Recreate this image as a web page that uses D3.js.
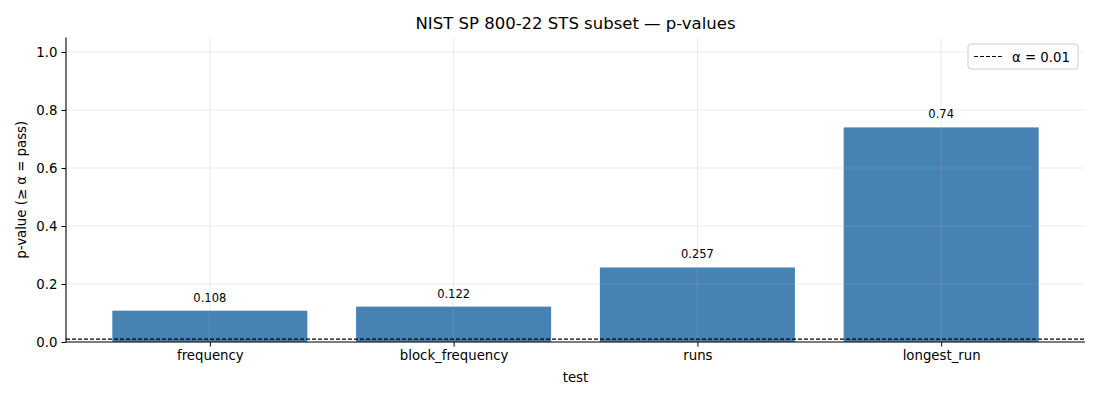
<!DOCTYPE html>
<html>
<head>
<meta charset="utf-8">
<script src="https://cdn.jsdelivr.net/npm/d3@7"></script>
<style>
  body { margin: 0; background: #fff; }
  svg { font-family: "DejaVu Sans", sans-serif; }
</style>
</head>
<body>
<svg id="chart" width="1100" height="400"></svg>
<script>
// STS subset results
var tests = ["frequency", "block_frequency", "runs", "longest_run"];
var pvalues = [0.108, 0.122, 0.257, 0.74];
var pLabels = ["0.108", "0.122", "0.257", "0.74"];
var alpha = 0.01;
var yTicks = [0.0, 0.2, 0.4, 0.6, 0.8, 1.0];

var svg = d3.select("#chart");
var m = {left: 66, right: 1085, top: 37.5, bottom: 342};

// matplotlib-like categorical axis: bars of width 0.8, 5% margins
var x = d3.scaleLinear().domain([-0.59, 3.59]).range([m.left, m.right]);
var y = d3.scaleLinear().domain([0, 1.05]).range([m.bottom, m.top]);
var barW = 0.8;

svg.append("g")
  .selectAll("rect")
  .data(pvalues)
  .enter()
  .append("rect")
  .attr("x", (d, i) => x(i - barW / 2))
  .attr("y", (d) => y(d))
  .attr("width", x(barW) - x(0))
  .attr("height", (d) => y(0) - y(d))
  .attr("fill", "#4682b4");

// grid on top of bars, faint
var grid = svg.append("g").attr("stroke", "#b0b0b0").attr("stroke-opacity", 0.3).attr("stroke-width", 0.8);
grid.selectAll(".gy").data(yTicks).enter().append("line")
  .attr("x1", m.left).attr("x2", m.right)
  .attr("y1", (d) => y(d)).attr("y2", (d) => y(d));
grid.selectAll(".gx").data(tests).enter().append("line")
  .attr("x1", (d, i) => x(i)).attr("x2", (d, i) => x(i))
  .attr("y1", m.top).attr("y2", m.bottom);

// alpha threshold
svg.append("line")
  .attr("x1", m.left).attr("x2", m.right)
  .attr("y1", y(alpha)).attr("y2", y(alpha))
  .attr("stroke", "#000").attr("stroke-width", 1.1)
  .attr("stroke-dasharray", "4,2");

// value labels
svg.append("g")
  .selectAll("text")
  .data(pvalues)
  .enter()
  .append("text")
  .attr("x", (d, i) => x(i))
  .attr("y", (d) => y(d) - 9)
  .attr("text-anchor", "middle")
  .style("font-size", "11.5px")
  .style("fill", "#000")
  .text((d, i) => pLabels[i]);

// axes
var yAxis = d3.axisLeft(y).tickValues(yTicks).tickFormat(d3.format(".1f")).tickSize(4.5).tickPadding(4);
var gy = svg.append("g").attr("transform", "translate(" + m.left + ",0)").call(yAxis);
var xAxis = d3.axisBottom(x).tickValues([0, 1, 2, 3]).tickFormat((d) => tests[d]).tickSize(4.5).tickPadding(4);
var gx = svg.append("g").attr("transform", "translate(0," + m.bottom + ")").call(xAxis);
[gx, gy].forEach(function (g) {
  g.select(".domain").attr("stroke", "#000").attr("stroke-width", 1.1).attr("d", null);
  g.selectAll("text").style("font-size", "13.3px").style("fill", "#000").attr("font-family", "DejaVu Sans");
  g.selectAll("line").attr("stroke", "#000");
});
gx.select(".domain").remove();
gy.select(".domain").remove();
svg.append("line").attr("x1", m.left).attr("x2", m.right).attr("y1", m.bottom).attr("y2", m.bottom)
  .attr("stroke", "#000").attr("stroke-width", 1.1);
svg.append("line").attr("x1", m.left).attr("x2", m.left).attr("y1", m.top).attr("y2", m.bottom)
  .attr("stroke", "#000").attr("stroke-width", 1.1);

// titles
svg.append("text").attr("x", (m.left + m.right) / 2).attr("y", 29)
  .attr("text-anchor", "middle").style("font-size", "16.5px").text("NIST SP 800-22 STS subset — p-values");
svg.append("text").attr("x", (m.left + m.right) / 2).attr("y", 382)
  .attr("text-anchor", "middle").style("font-size", "13.3px").text("test");
svg.append("text").attr("transform", "translate(26," + ((m.top + m.bottom) / 2) + ") rotate(-90)")
  .attr("text-anchor", "middle").style("font-size", "13.3px").text("p-value (≥ α = pass)");

// legend
var lg = svg.append("g").attr("transform", "translate(968,44)");
lg.append("rect").attr("width", 110).attr("height", 25).attr("rx", 3)
  .attr("fill", "#fff").attr("fill-opacity", 0.8).attr("stroke", "#ccc");
lg.append("line").attr("x1", 6).attr("x2", 34).attr("y1", 12.5).attr("y2", 12.5)
  .attr("stroke", "#000").attr("stroke-width", 1.1).attr("stroke-dasharray", "4,2");
lg.append("text").attr("x", 44).attr("y", 17.5).style("font-size", "13.3px").text("α = " + alpha);
</script>
</body>
</html>
